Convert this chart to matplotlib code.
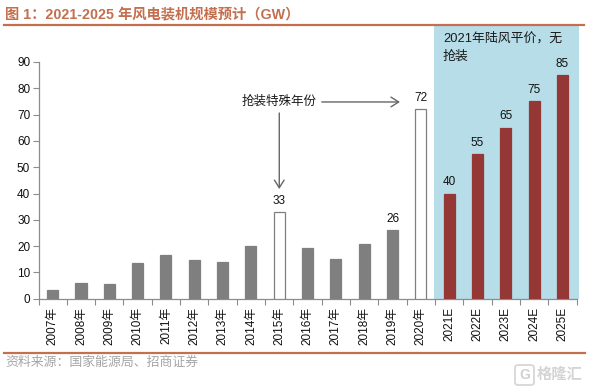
import matplotlib
matplotlib.use("Agg")
import matplotlib.pyplot as plt
from matplotlib.patches import Rectangle, FancyBboxPatch

FONT = ['Liberation Sans', 'Noto Sans CJK SC', 'DejaVu Sans']
plt.rcParams['font.family'] = FONT

categories = ['2007年', '2008年', '2009年', '2010年', '2011年', '2012年', '2013年',
              '2014年', '2015年', '2016年', '2017年', '2018年', '2019年', '2020年',
              '2021E', '2022E', '2023E', '2024E', '2025E']
values = [3.3, 6, 5.5, 13.5, 16.5, 14.7, 14, 20, 33, 19.3, 15, 20.7, 26, 72,
          40, 55, 65, 75, 85]
kinds = ['h', 'h', 'h', 'h', 'h', 'h', 'h', 'h', 's', 'h', 'h', 'h', 'h', 's',
         'f', 'f', 'f', 'f', 'f']
labelled = [8, 12, 13, 14, 15, 16, 17, 18]
yticks = [0, 10, 20, 30, 40, 50, 60, 70, 80, 90]

W, H = 590, 392
ACCENT = '#C46F4E'
GRAY = '#7F7F7F'
RED = '#953735'
BLUE = '#B7DDE8'

fig = plt.figure(figsize=(W / 100, H / 100), dpi=100, facecolor='white')

def fx(p):
    return p / W

def fy(p):
    return 1 - p / H

# light-blue forecast panel
fig.add_artist(Rectangle((fx(434), fy(298.7)), fx(578.7) - fx(434), fy(25) - fy(298.7),
                         transform=fig.transFigure, fc=BLUE, ec='none', zorder=0))

ax = fig.add_axes([fx(38.5), fy(298.7), fx(576.7) - fx(38.5), fy(62) - fy(298.7)], zorder=2)
ax.patch.set_alpha(0)

colors = {'h': GRAY, 's': 'white', 'f': RED}
edges = {'h': GRAY, 's': GRAY, 'f': RED}
for i, (v, k) in enumerate(zip(values, kinds)):
    ax.bar(i, v, width=0.39, color=colors[k], edgecolor=edges[k], linewidth=0.9, zorder=3)
for i in labelled:
    ax.text(i, values[i] + 2, f'{values[i]:g}', ha='center', va='bottom', fontsize=8.5, color='#111111')

ax.set_xlim(-0.5, len(categories) - 0.5)
ax.set_ylim(0, 90)
ax.set_yticks(yticks)
ax.set_xticks([i - 0.5 for i in range(len(categories) + 1)])
ax.set_xticklabels([])
for s in ('top', 'right'):
    ax.spines[s].set_visible(False)
for s in ('left', 'bottom'):
    ax.spines[s].set_color('#8c8c8c')
    ax.spines[s].set_linewidth(0.9)
ax.tick_params(axis='y', length=4, width=0.8, color='#8c8c8c', direction='out', labelsize=8.5,
               labelcolor='#111111', pad=2)
ax.tick_params(axis='x', length=4, width=0.8, color='#8c8c8c', direction='out')

for i, c in enumerate(categories):
    ax.annotate(c, (i, 0), xytext=(0, -6), textcoords='offset points', rotation=90,
                ha='center', va='top', fontsize=8.5, color='#111111', annotation_clip=False)

# annotation arrows
arrow = dict(arrowstyle='->,head_length=0.55,head_width=0.35', color='#666666', lw=1.0,
             shrinkA=0, shrinkB=0)
ax.annotate('', xy=(8, 41.7), xytext=(8, 70.6), arrowprops=arrow, zorder=4)
ax.annotate('', xy=(12.26, 74.8), xytext=(9.5, 74.8), arrowprops=arrow, zorder=4)
ax.text(8, 74.8, '抢装特殊年份', ha='center', va='center', fontsize=9, color='#1a1a1a')

fig.text(fx(443), fy(38), '2021年陆风平价\uff0c无', fontsize=9.3, color='#1a1a1a', va='center', ha='left')
fig.text(fx(443), fy(57), '抢装', fontsize=9.3, color='#1a1a1a', va='center', ha='left')

# header and footer
fig.text(fx(5), fy(15), '图 1\uff1a2021-2025 年风电装机规模预计\uff08GW\uff09', fontsize=10.3, fontweight='bold',
         color=ACCENT, va='center', ha='left')
fig.add_artist(plt.Line2D([fx(4), fx(584)], [fy(24.5)] * 2, color=ACCENT, lw=1.6))
fig.add_artist(plt.Line2D([fx(4), fx(585)], [fy(352.5)] * 2, color=ACCENT, lw=1.6))
fig.text(fx(5), fy(362.5), '资料来源\uff1a国家能源局、招商证券', fontsize=9.3, color='#A6A6A6', va='center', ha='left')

# watermark
fig.add_artist(FancyBboxPatch((fx(515), fy(385)), fx(19), fy(365) - fy(385),
                              boxstyle='round,pad=0,rounding_size=0.006',
                              transform=fig.transFigure, fc='none', ec='#D9D9D9', lw=1.4))
fig.text(fx(524.5), fy(375), 'G', fontsize=10, fontweight='bold', color='#D0D0D0', ha='center', va='center')
fig.text(fx(537), fy(375), '格隆汇', fontsize=11, fontweight='bold', color='#D4D4D4', va='center', ha='left')

fig.savefig('out.png', dpi=100)
